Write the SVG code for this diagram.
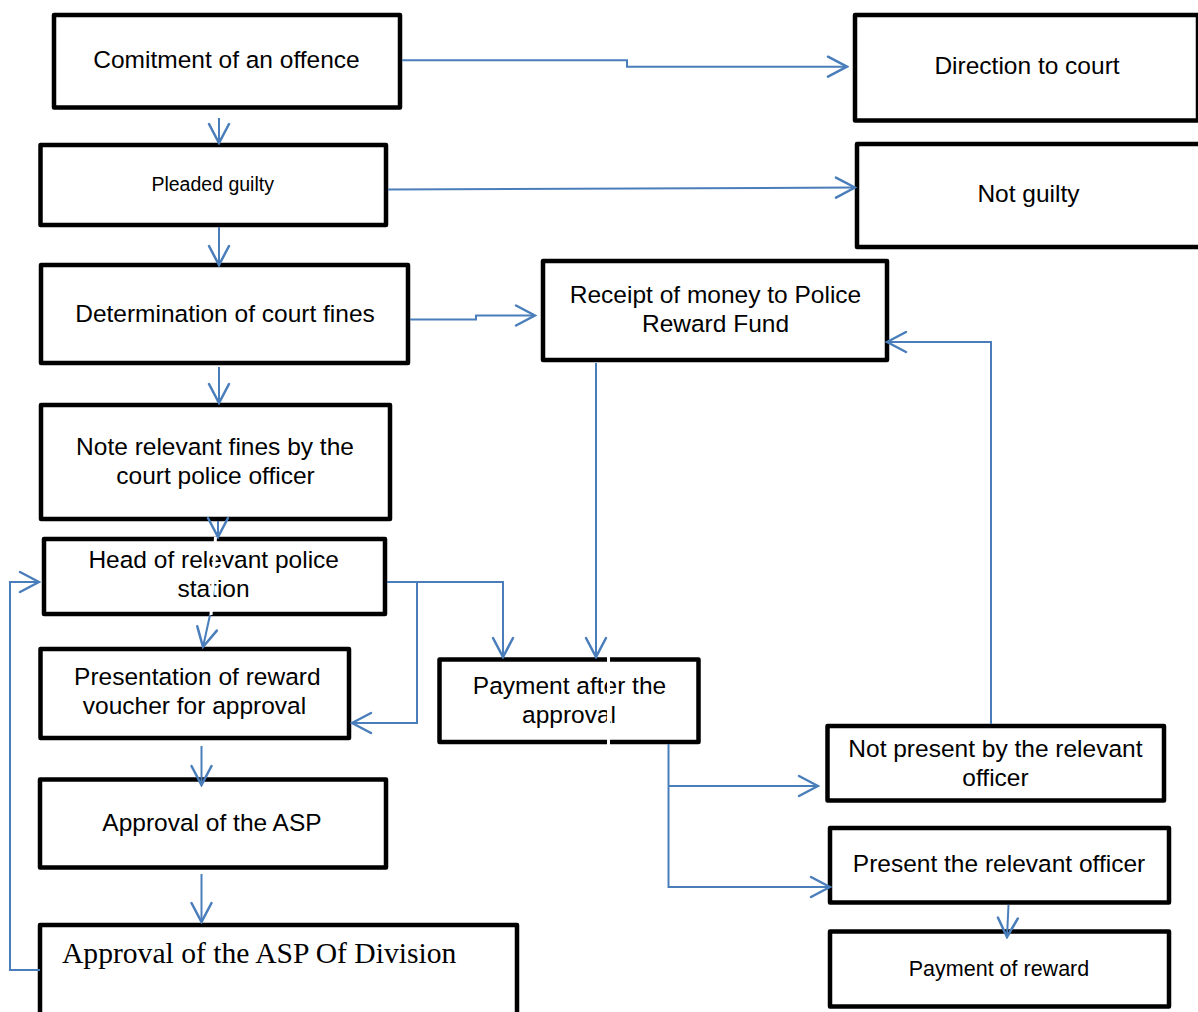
<svg xmlns="http://www.w3.org/2000/svg" width="1198" height="1012" viewBox="0 0 1198 1012">
<style>
.box{fill:#fff;stroke:#000;stroke-width:4.5;stroke-linejoin:round}
.t{font-family:"Liberation Sans",Arial,sans-serif;font-size:24.5px;fill:#000;text-anchor:middle}
.s{font-size:19.5px}
.m{font-size:21.5px}
.serif{font-family:"Liberation Serif","Times New Roman",serif;font-size:29.6px;fill:#000}
.c{fill:none;stroke:#4A7EBB;stroke-width:2;marker-end:url(#ah)}
.gap{stroke:#fff;stroke-width:3}
</style>
<defs>
<marker id="ah" viewBox="-22 -12 24 24" refX="0" refY="0" markerWidth="24" markerHeight="24" markerUnits="userSpaceOnUse" orient="auto">
<path d="M -19 -10 L 0 0 L -19 10" fill="none" stroke="#4A7EBB" stroke-width="2.5" stroke-linecap="round" stroke-linejoin="miter"/>
</marker>
</defs>
<rect width="1198" height="1012" fill="#fff"/>

<g id="n-comitment"><rect class="box" x="54" y="15" width="346" height="92.5"/><text class="t" x="226.5" y="68">Comitment of an offence</text></g>
<g id="n-direction"><rect class="box" x="855" y="15" width="343" height="105.5"/><text class="t" x="1027" y="74">Direction to court</text></g>
<g id="n-pleaded"><rect class="box" x="40.5" y="145" width="345.5" height="80"/><text class="t s" x="212.7" y="191">Pleaded guilty</text></g>
<g id="n-notguilty"><rect class="box" x="857" y="144" width="346" height="103"/><text class="t" x="1028.5" y="202">Not guilty</text></g>
<g id="n-determination"><rect class="box" x="41" y="265" width="367" height="98"/><text class="t" x="225" y="322">Determination of court fines</text></g>
<g id="n-receipt"><rect class="box" x="543" y="261" width="344" height="99"/><text class="t" x="715.5" y="303">Receipt of money to Police</text><text class="t" x="715.5" y="332">Reward Fund</text></g>
<g id="n-note"><rect class="box" x="41" y="405" width="349" height="114"/><text class="t" x="215" y="455">Note relevant fines by the</text><text class="t" x="215.5" y="484">court police officer</text></g>
<g id="n-head"><rect class="box" x="44" y="539" width="341" height="75"/><text class="t" x="213.7" y="568">Head of relevant police</text><text class="t" x="213.5" y="597">station</text></g>
<g id="n-presentation"><rect class="box" x="40.5" y="649" width="308.5" height="89"/><text class="t" x="197.3" y="685">Presentation of reward</text><text class="t" x="194.5" y="714">voucher for approval</text></g>
<g id="n-paymentafter"><rect class="box" x="439.5" y="659.5" width="259" height="82.5"/><text class="t" x="569.5" y="694">Payment after the</text><text class="t" x="569" y="723">approval</text></g>
<g id="n-notpresent"><rect class="box" x="827.5" y="726" width="336.5" height="74.5"/><text class="t" x="995.4" y="757">Not present by the relevant</text><text class="t" x="995.5" y="786">officer</text></g>
<g id="n-approvalasp"><rect class="box" x="40" y="779.5" width="346" height="88"/><text class="t" x="212" y="831">Approval of the ASP</text></g>
<g id="n-present"><rect class="box" x="830" y="828" width="339" height="74.5"/><text class="t" x="999" y="872">Present the relevant officer</text></g>
<g id="n-division"><rect class="box" x="40" y="925" width="477" height="100"/><text class="serif" x="62" y="963">Approval of the ASP Of Division</text></g>
<g id="n-reward"><rect class="box" x="830" y="931.5" width="339" height="75"/><text class="t m" x="999" y="976">Payment of reward</text></g>

<g id="connectors">
<line class="gap" x1="215.5" y1="537" x2="211" y2="615"/>
<line class="gap" x1="608.5" y1="656" x2="608.5" y2="745"/>
<path class="c" d="M 402 60.3 H 627 V 66.7 H 847"/>
<path class="c" d="M 219 118 V 143"/>
<path class="c" d="M 388 189.5 L 855 187.5"/>
<path class="c" d="M 219 227 V 265"/>
<path class="c" d="M 410 319.5 H 476 V 315.5 H 535"/>
<path class="c" d="M 219 367 V 403"/>
<path class="c" d="M 218 521 V 537"/>
<path class="c" d="M 210 615 L 203 647"/>
<path class="c" d="M 387 582 H 503 V 657"/>
<path class="c" d="M 417 582 V 723 H 352"/>
<path class="c" d="M 596 363 V 657"/>
<path class="c" d="M 201.5 746 V 785"/>
<path class="c" d="M 201.5 874 V 922"/>
<path class="c" d="M 40 970 H 10 V 582 H 39"/>
<path class="c" d="M 668.5 744 V 887 H 830"/>
<path class="c" d="M 668.5 786 H 818"/>
<path class="c" d="M 991 724 V 342 H 887"/>
<path class="c" d="M 1008.5 905 L 1007 937"/>
</g>
</svg>
